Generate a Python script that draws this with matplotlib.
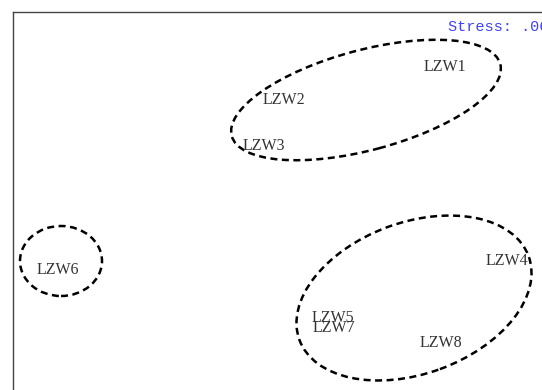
import matplotlib
matplotlib.use("Agg")
import matplotlib.pyplot as plt
from matplotlib.patches import Ellipse

# MDS coordinates of the samples
labels = ["LZW1", "LZW2", "LZW3", "LZW4", "LZW5", "LZW6", "LZW7", "LZW8"]
dim1 = [0.66, -0.145, -0.245, 0.97, 0.10, -1.275, 0.105, 0.64]
dim2 = [0.725, 0.56, 0.33, -0.245, -0.53, -0.29, -0.58, -0.655]

# group ellipses: centre x, centre y, width, height, angle
ell_x = [0.265, -1.26, 0.505]
ell_y = [0.56, -0.245, -0.43]
ell_w = [1.39, 0.41, 1.22]
ell_h = [0.50, 0.35, 0.757]
ell_ang = [15, 0, 20]

stress = ".06"

fig = plt.figure(figsize=(5.42, 3.90), dpi=100)
ax = fig.add_axes([13 / 542, -22 / 390, 600 / 542, 400 / 390])
ax.set_xlim(-1.5, 1.5)
ax.set_ylim(-1, 1)
ax.set_aspect("equal")

for x, y, w, h, a in zip(ell_x, ell_y, ell_w, ell_h, ell_ang):
    ax.add_patch(Ellipse((x, y), w, h, angle=a, fill=False, edgecolor="black",
                         lw=1.8, linestyle=(0, (2.8, 1.8))))

for lab, x, y in zip(labels, dim1, dim2):
    ax.text(x, y, lab, ha="center", va="center", fontsize=11.5,
            family="Liberation Serif", color="#333333")

ax.text(0.675, 0.925, "Stress: " + stress, ha="left", va="center", fontsize=11,
        family="Liberation Mono", color="#4040ff")

ax.set_xticks([])
ax.set_yticks([])
for s in ["right", "bottom"]:
    ax.spines[s].set_visible(False)
for s in ["left", "top"]:
    ax.spines[s].set_color("#444444")
    ax.spines[s].set_linewidth(1.0)

fig.savefig("out.png", dpi=100)
